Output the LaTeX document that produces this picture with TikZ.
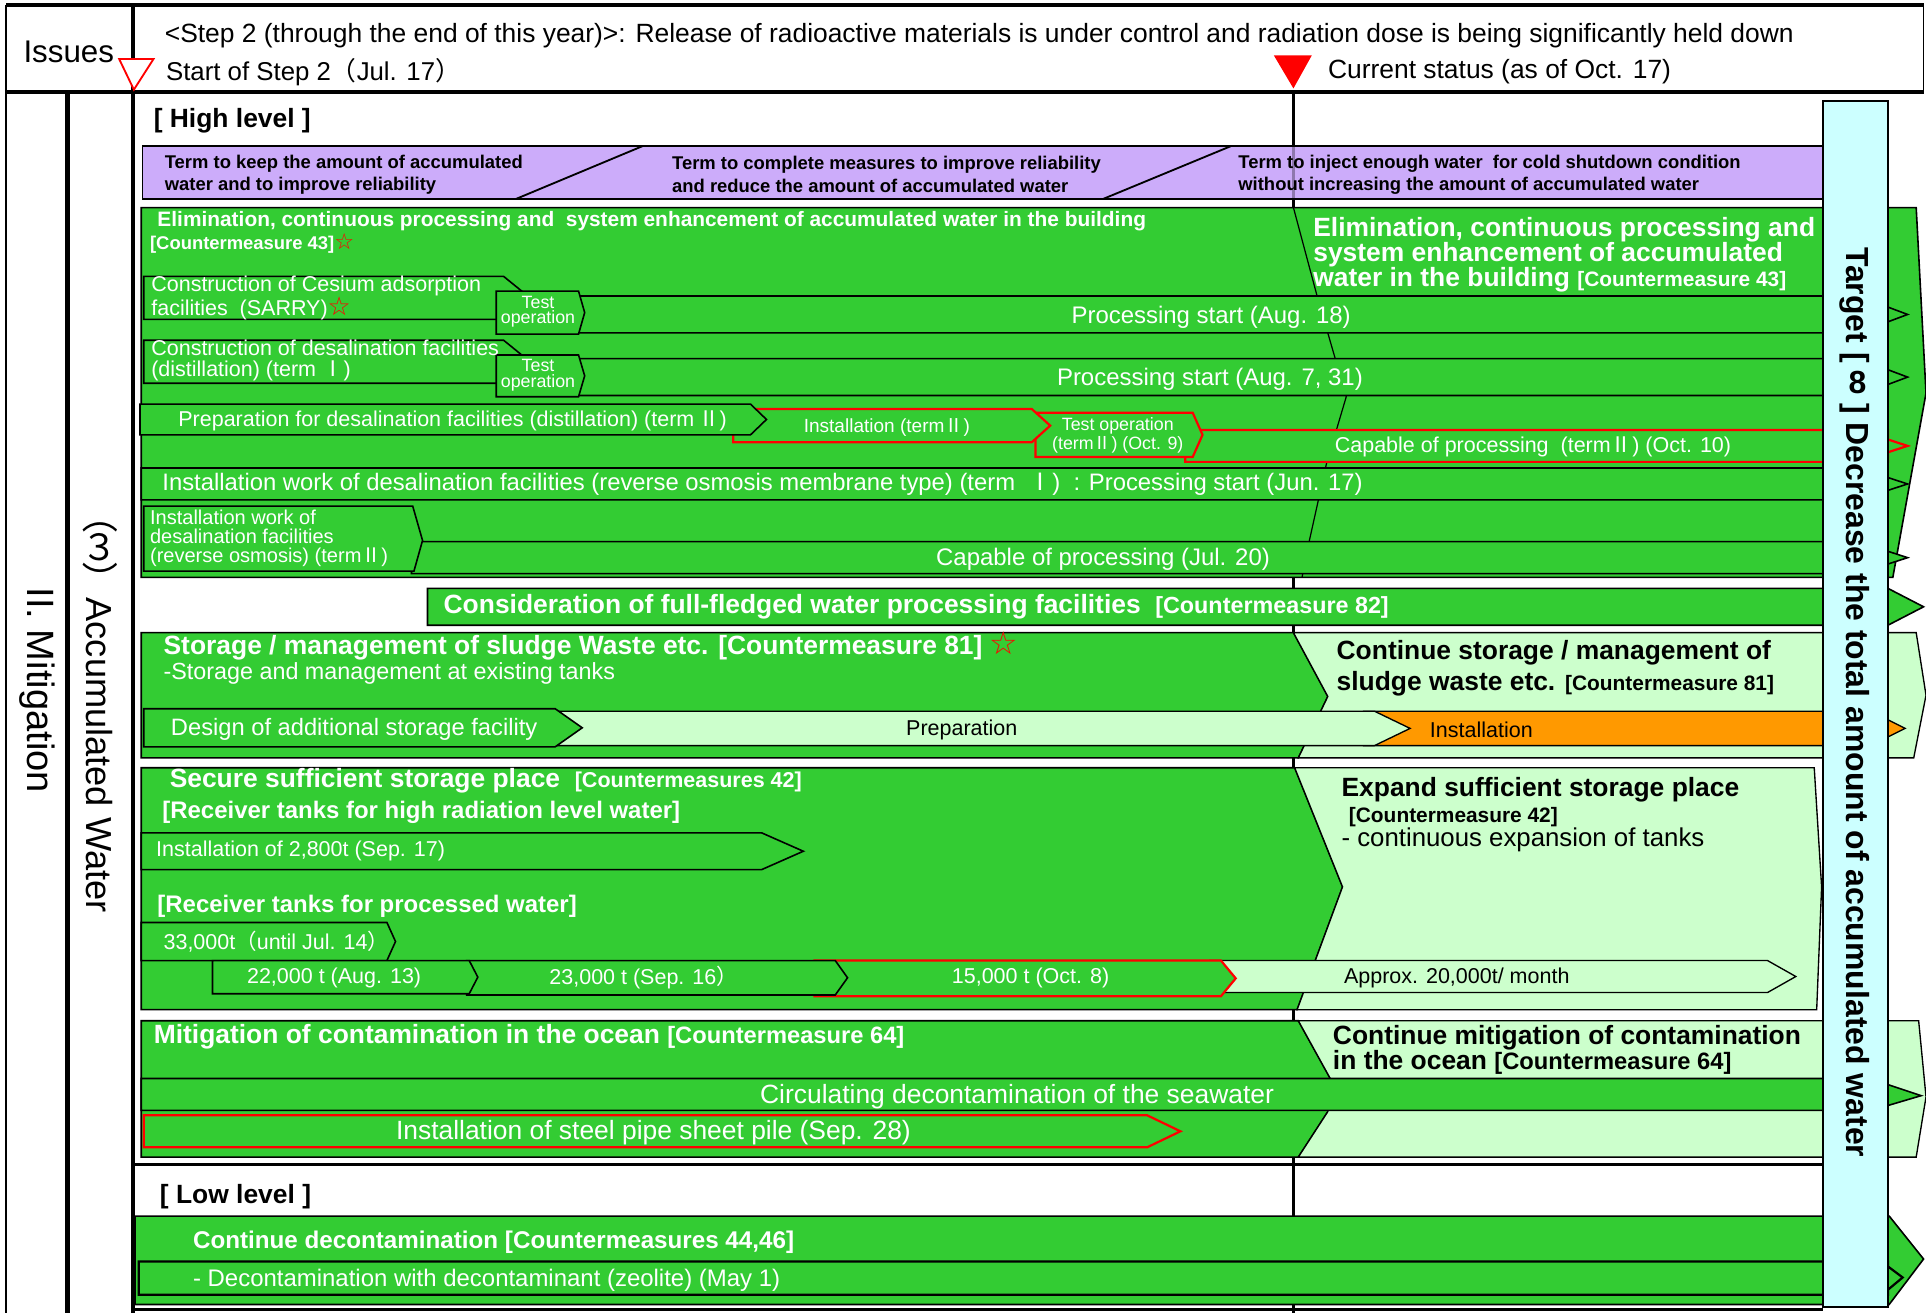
\documentclass[tikz,border=0pt]{standalone}
\usepackage{fontspec}
\setmainfont{Liberation Sans}
\newfontfamily\cjk{Noto Sans CJK JP}
\newfontfamily\dvs{DejaVu Sans}
\definecolor{dg}{RGB}{51,204,51}
\definecolor{lg}{RGB}{204,255,204}
\definecolor{orng}{RGB}{255,153,0}
\definecolor{cyb}{RGB}{204,255,255}
\definecolor{purp}{RGB}{204,172,250}
\newcommand\RI{{\cjk Ⅰ}}
\newcommand\RII{{\cjk Ⅱ}}
\newcommand\lpf{{\cjk （}}
\newcommand\rpf{{\cjk ）}}
\newcommand\rstar{{\dvs\bfseries\color{red}\scalebox{1.2}{☆}}}
\newcommand\fs[2]{\fontsize{#1}{#2}\selectfont}
% [style]{x1}{ytop}{xcorner}{ybot}{xtip}
\newcommand\arbar[6][]{\draw[#1] (#2,#3) -- (#4,#3) -- (#6,{(#3+#5)/2}) -- (#4,#5) -- (#2,#5) -- cycle;}
% [style]{x1}{ytop}{ybot} : bar running under the target box, small tip
\newcommand\rowbar[4][]{\draw[#1] (#2,#3) -- (1537,#3) -- (1537,{#3+(#4-#3)*0.3}) -- (1553,{(#3+#4)/2}) -- (1537,{#4-(#4-#3)*0.3}) -- (1537,#4) -- (#2,#4) -- cycle;}
\begin{document}
\begin{tikzpicture}[x=1pt,y=-1pt,
  dgf/.style={fill=dg,draw=black,line width=1.3pt},
  lgf/.style={fill=lg,draw=black,line width=1.1pt},
  redf/.style={fill=dg,draw=red,line width=1.8pt},
  orf/.style={fill=orng,draw=black,line width=1.1pt},
  wt/.style={text=white,inner sep=0pt,anchor=west},
  bt/.style={text=black,inner sep=0pt,anchor=west},
  wc/.style={text=white,inner sep=0pt,anchor=center},
  bc/.style={text=black,inner sep=0pt,anchor=center},
]
\useasboundingbox (0,0) rectangle (1568,1069);
\fill[white] (0,0) rectangle (1568,1069);

% current status line
\coordinate (curtop) at (1053,75);
\coordinate (curbot) at (1053,1069);
\draw[line width=3pt] (curtop) -- (curbot);

% purple term bar
\draw[fill=purp,line width=1.5pt] (116,119) rectangle (1484,162);
\draw[line width=1.5pt] (523,119) -- (420,162);
\draw[line width=1.5pt] (1002,119) -- (898,162);
\draw[line width=2pt,black,opacity=0.3] (1053,119) -- (1053,162);

% ---------- block 1
\draw[dgf] (115,169) -- (1560,169) -- (1568,320) -- (1541,470) -- (115,470) -- cycle;
\draw[line width=1pt] (1053,169) -- (1072,240) -- (1096,323) -- (1080,377) -- (1066,440) -- (1060,470);
\draw[dgf] (117,225) -- (410,225) -- (426,238) -- (426,260) -- (117,260) -- cycle;
\rowbar[dgf]{465}{241}{271}
\draw[dgf] (404,237) -- (471,237) -- (476,254.5) -- (471,272) -- (404,272) -- cycle;
\draw[dgf] (117,277) -- (410,277) -- (426,290) -- (426,312) -- (117,312) -- cycle;
\rowbar[dgf]{465}{292}{322}
\draw[dgf] (404,289) -- (471,289) -- (476,306) -- (471,323) -- (404,323) -- cycle;
\rowbar[redf]{965}{350}{376}
\draw[redf] (843,336) -- (971,336) -- (979,354) -- (971,372) -- (843,372) -- cycle;
\arbar[redf]{597}{333}{840}{360}{855}
\arbar[dgf]{114}{329}{611}{354}{624}
\rowbar[dgf]{115}{381}{407}
\rowbar[dgf]{335}{441}{467}
\draw[dgf] (117,412) -- (336,412) -- (344,440) -- (337,465) -- (117,465) -- cycle;

% consideration bar
\draw[dgf] (348,479) -- (1537,479) -- (1566,494) -- (1537,509) -- (348,509) -- cycle;

% ---------- block 2
\draw[dgf] (115,515) -- (1053,515) -- (1081,567) -- (1057,617) -- (115,617) -- cycle;
\draw[lgf] (1053,515) -- (1560,515) -- (1568,566) -- (1558,617) -- (1057,617) -- (1081,567) -- cycle;
\draw[orf] (1110,579) -- (1537,579) -- (1537,586) -- (1551,593) -- (1537,600) -- (1537,607) -- (1110,607) -- cycle;
\arbar[lgf]{440}{579}{1119}{607}{1148}
\arbar[dgf]{117}{577}{452}{608}{474}

% ---------- block 3
\draw[dgf] (115,625) -- (1054,625) -- (1093,722) -- (1056,822) -- (115,822) -- cycle;
\draw[lgf] (1054,625) -- (1477,625) -- (1483,722) -- (1479,822) -- (1056,822) -- (1093,722) -- cycle;
\arbar[dgf]{115}{678}{620}{708}{654}
\arbar[dgf]{115}{751}{315}{782}{322}
\arbar[lgf]{985}{782}{1439}{808}{1462}
\arbar[redf]{663}{782}{994}{811}{1006}
\arbar[dgf]{380}{782}{680}{810}{690}
\arbar[dgf]{173}{782}{382}{809}{389}

% ---------- block 4
\draw[dgf] (115,831) -- (1057,831) -- (1083,878) -- (1081,905) -- (1057,942) -- (115,942) -- cycle;
\draw[lgf] (1057,831) -- (1562,831) -- (1568,893) -- (1560,942) -- (1057,942) -- (1081,905) -- (1083,878) -- cycle;
\draw[dgf] (115,878) -- (1537,878) -- (1537,883) -- (1564,892) -- (1537,900) -- (1537,904) -- (115,904) -- cycle;
\arbar[redf]{117}{908}{934}{934}{961}

\draw[line width=3pt] (108,948) -- (1484,948);

% ---------- block 5
\draw[dgf] (110,990) -- (1538,990) -- (1566,1025) -- (1538,1062) -- (110,1062) -- cycle;
\draw[dgf,line width=1.8pt] (113,1027) -- (1537,1027) -- (1537,1031) -- (1549,1040) -- (1537,1050) -- (1537,1054) -- (113,1054) -- cycle;
\draw[line width=2pt] (108,1066) -- (1484,1066);

% ---------- frame
\draw[line width=3pt] (5,4) -- (1566,4);
\draw[line width=3pt] (5,75) -- (1566,75);
\draw[line width=1.5pt] (1566,4) -- (1566,75);
\draw[line width=1.5pt] (5,4) -- (5,1069);
\draw[line width=3.5pt] (55,75) -- (55,1069);
\draw[line width=3.5pt] (108,4) -- (108,1069);

\draw[red,fill=white,line width=1.5pt] (97,48) -- (125,48) -- (109,73) -- cycle;
\fill[red] (1037,45) -- (1068,45) -- (1053,72) -- cycle;

% target box
\draw[fill=cyb,line width=1.3pt] (1484,82) rectangle (1537,1064);

% ---------- texts
\node[bc,font=\fs{25.5}{28}] (issues) at (56,42) {Issues};
\node[bt,font=\fs{21.5}{24}] (hdr1) at (134,29) {<Step 2 (through the end of this year)>: Release of radioactive materials is under control and radiation dose is being significantly held down};
\node[bt,font=\fs{21}{24}] (hdr2) at (135,59) {Start of Step 2\lpf Jul. 17\rpf};
\node[bt,font=\fs{21.5}{24}] (cur) at (1081,58) {Current status (as of Oct. 17)};

\node[bt,font=\bfseries\fs{21.5}{24}] (high) at (125,98) {[ High level ]};
\node[bt,font=\bfseries\fs{15}{18},align=left] (term1) at (134,142) {Term to keep the amount of accumulated\\water and to improve reliability};
\node[bt,font=\bfseries\fs{15}{18},align=left] (term2) at (547,142) {Term to complete measures to improve reliability\\and reduce the amount of accumulated water};
\node[bt,font=\bfseries\fs{15}{18},align=left] (term3) at (1008,142) {Term to inject enough water\ \ for cold shutdown condition\\without increasing the amount of accumulated water};

\node[wt,font=\bfseries\fs{17}{19}] (b1t) at (128,180) {Elimination, continuous processing and\ \ system enhancement of accumulated water in the building};
\node[wt,font=\bfseries\fs{15}{17}] (b1c) at (122,198) {[Countermeasure 43]\rstar};
\node[wt,font=\bfseries\fs{21.5}{20.5},align=left] (b1r) at (1069,207.5) {Elimination, continuous processing and\\system enhancement of accumulated\\water in the building {\fs{17}{20.5}[Countermeasure 43]}};
\node[wt,font=\fs{17.5}{17},align=left] (sarry) at (123,242.5) {Construction of Cesium adsorption\\facilities\ \ (SARRY)\rstar};
\node[wc,font=\fs{14.5}{12.5},align=center] (test1) at (438,254) {Test\\operation};
\node[wc,font=\fs{19.5}{21}] (proc1) at (986,258) {Processing start (Aug. 18)};
\node[wt,font=\fs{17.5}{17},align=left] (desal) at (123,293.5) {Construction of desalination facilities\\(distillation) (term \RI)};
\node[wc,font=\fs{14.5}{12.5},align=center] (test2) at (438,305.5) {Test\\operation};
\node[wc,font=\fs{19.5}{21}] (proc2) at (985,309) {Processing start (Aug. 7, 31)};
\node[wt,font=\fs{17.5}{19}] (prep2) at (145,343) {Preparation for desalination facilities (distillation) (term\,\RII)};
\node[wc,font=\fs{15.5}{17}] (inst2) at (722,348) {Installation (term\RII)};
\node[wc,font=\fs{14.5}{15},align=center] (test3) at (910,354.5) {Test operation\\(term\RII) (Oct. 9)};
\node[wc,font=\fs{17.5}{19}] (cap2) at (1248,364) {Capable of processing\ \ (term\RII) (Oct. 10)};
\node[wt,font=\fs{19.4}{21}] (ro1) at (132,394) {Installation work of desalination facilities (reverse osmosis membrane type) (term\ \ \RI)\ \ : Processing start (Jun. 17)};
\node[wt,font=\fs{16.3}{15.5},align=left] (ro2) at (122,438.5) {Installation work of\\desalination facilities\\(reverse osmosis) (term\RII)};
\node[wc,font=\fs{19.5}{21}] (cap3) at (898,455) {Capable of processing (Jul. 20)};

\node[wt,font=\bfseries\fs{21.5}{24}] (cons) at (361,494) {Consideration of full-fledged water processing facilities\ \ {\fs{19}{24}[Countermeasure 82]}};

\node[wt,font=\bfseries\fs{21.5}{24}] (sl1) at (133,526) {Storage / management of sludge Waste etc. [Countermeasure 81] \rstar};
\node[wt,font=\fs{19}{21}] (sl2) at (133,548.5) {-Storage and management at existing tanks};
\node[bt,font=\bfseries\fs{21.5}{24.5},align=left] (slr) at (1088,544) {Continue storage / management of\\sludge waste etc. {\fs{17}{24.5}[Countermeasure 81]}};
\node[wt,font=\fs{19.3}{21}] (design) at (139,594) {Design of additional storage facility};
\node[bc,font=\fs{17.5}{19}] (prep) at (783,594) {Preparation};
\node[bc,font=\fs{17.5}{19}] (instl) at (1206,594) {Installation};

\node[wt,font=\bfseries\fs{21.5}{24}] (st1) at (138,636) {Secure sufficient storage place\ \ {\fs{17.5}{24}[Countermeasures 42]}};
\node[wt,font=\bfseries\fs{19.5}{22}] (st2) at (132,661) {[Receiver tanks for high radiation level water]};
\node[wt,font=\fs{17.5}{19}] (st3) at (127,693) {Installation of 2,800t (Sep. 17)};
\node[wt,font=\bfseries\fs{19.5}{22}] (st4) at (128,738) {[Receiver tanks for processed water]};
\node[wt,font=\fs{17.5}{19}] (st5) at (133,767) {33,000t\lpf until Jul. 14\rpf};
\node[wc,font=\fs{17.5}{19}] (st6) at (272,796) {22,000 t (Aug. 13)};
\node[wc,font=\fs{17.5}{19}] (st7) at (524,796) {23,000 t (Sep. 16\rpf};
\node[wc,font=\fs{17.5}{19}] (st8) at (839,796) {15,000 t (Oct. 8)};
\node[bt,font=\fs{17.5}{19}] (st9) at (1094,796) {Approx. 20,000t/ month};
\node[bt,font=\bfseries\fs{21.5}{24}] (str1) at (1092,643) {Expand sufficient storage place};
\node[bt,font=\bfseries\fs{17}{19}] (str2) at (1098,665) {[Countermeasure 42]};
\node[bt,font=\fs{21}{23}] (str3) at (1092,684) {- continuous expansion of tanks};

\node[wt,font=\bfseries\fs{21.5}{24}] (oc1) at (125,844) {Mitigation of contamination in the ocean {\fs{19.3}{24}[Countermeasure 64]}};
\node[bt,font=\bfseries\fs{21.5}{20.5},align=left] (ocr) at (1085,854.5) {Continue mitigation of contamination\\in the ocean {\fs{19.3}{20.5}[Countermeasure 64]}};
\node[wc,font=\fs{21.5}{23}] (circ) at (828,893) {Circulating decontamination of the seawater};
\node[wc,font=\fs{21.5}{23}] (steel) at (532,922) {Installation of steel pipe sheet pile (Sep. 28)};

\node[bt,font=\bfseries\fs{21.5}{24}] (low) at (130,974) {[ Low level ]};
\node[wt,font=\bfseries\fs{19.7}{22}] (dec1) at (157,1011) {Continue decontamination [Countermeasures 44,46]};
\node[wt,font=\fs{19.5}{22}] (dec2) at (157,1042) {- Decontamination with decontaminant (zeolite) (May 1)};

\node[bc,font=\fs{31}{33},rotate=-90] (mit) at (30,562) {II. Mitigation};
\node[bc,font=\fs{29.5}{32},rotate=-90] (acc) at (81,574) {\lpf\rotatebox[origin=c]{90}{\cjk ３}\rpf Accumulated Water};
\node[bc,font=\bfseries\fs{26}{28},rotate=-90] (tgt) at (1510,572) {Target [ \rotatebox[origin=c]{90}{8} ] Decrease the total amount of accumulated water};
\end{tikzpicture}
\end{document}
